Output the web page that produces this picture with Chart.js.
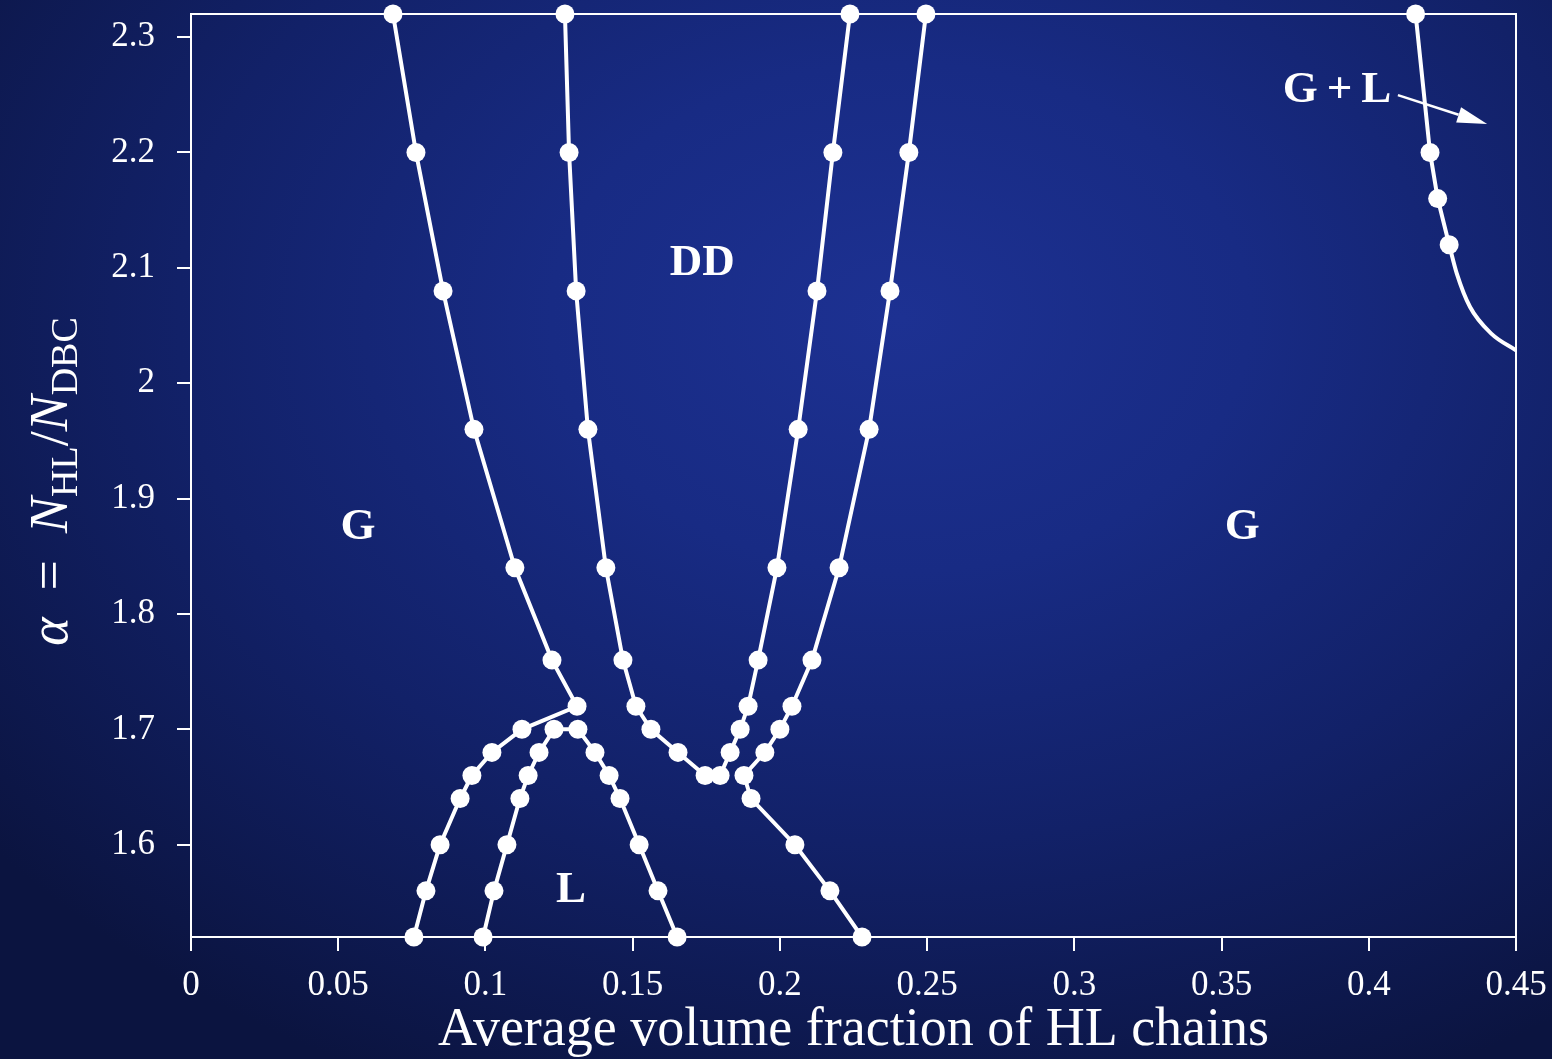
<!DOCTYPE html>
<html>
<head>
<meta charset="utf-8">
<script src="https://cdn.jsdelivr.net/npm/chart.js@4.4.1/dist/chart.umd.min.js"></script>
<style>
  html, body { margin: 0; padding: 0; }
  body {
    width: 1552px; height: 1059px; overflow: hidden;
    background: radial-gradient(ellipse 75% 80% at 58% 30%, #1d3192 0%, #182b84 30%, #122168 62%, #0b1440 100%);
  }
  #wrap { position: relative; width: 1552px; height: 1059px; }
</style>
</head>
<body>
<div id="wrap"><canvas id="c"></canvas></div>
<script>
// ---- Data ----
const xTicks = [0, 0.05, 0.1, 0.15, 0.2, 0.25, 0.3, 0.35, 0.4, 0.45];
const xTickLabels = ['0', '0.05', '0.1', '0.15', '0.2', '0.25', '0.3', '0.35', '0.4', '0.45'];
const yTicks = [1.6, 1.7, 1.8, 1.9, 2.0, 2.1, 2.2, 2.3];
const yTickLabels = ['1.6', '1.7', '1.8', '1.9', '2', '2.1', '2.2', '2.3'];

// Line A: outer-left G boundary, then down the left side of L
const lineAx = [0.0686, 0.0764, 0.0856, 0.0961, 0.1100, 0.1226, 0.1311, 0.1124, 0.1022, 0.0954, 0.0914, 0.0846, 0.0798, 0.0757];
const lineAy = [2.32, 2.20, 2.08, 1.96, 1.84, 1.76, 1.72, 1.70, 1.68, 1.66, 1.64, 1.60, 1.56, 1.52];

// Line B: inner DD U-shape
const lineBx = [0.1270, 0.1284, 0.1308, 0.1348, 0.1409, 0.1467, 0.1511, 0.1562, 0.1654, 0.1746, 0.1797, 0.1831, 0.1865, 0.1892, 0.1926, 0.1990, 0.2062, 0.2126, 0.2180, 0.2238];
const lineBy = [2.32, 2.20, 2.08, 1.96, 1.84, 1.76, 1.72, 1.70, 1.68, 1.66, 1.66, 1.68, 1.70, 1.72, 1.76, 1.84, 1.96, 2.08, 2.20, 2.32];

// Line C: inner L boundary (arch)
const lineCx = [0.0992, 0.1029, 0.1073, 0.1117, 0.1145, 0.1182, 0.1233, 0.1314, 0.1372, 0.1420, 0.1457, 0.1522, 0.1586, 0.1651];
const lineCy = [1.52, 1.56, 1.60, 1.64, 1.66, 1.68, 1.70, 1.70, 1.68, 1.66, 1.64, 1.60, 1.56, 1.52];

// Line D: outer-right DD boundary, then down to the bottom
const lineDx = [0.2496, 0.2438, 0.2374, 0.2303, 0.2201, 0.2109, 0.2041, 0.2000, 0.1949, 0.1878, 0.1902, 0.2051, 0.2170, 0.2279];
const lineDy = [2.32, 2.20, 2.08, 1.96, 1.84, 1.76, 1.72, 1.70, 1.68, 1.66, 1.64, 1.60, 1.56, 1.52];

// G+L boundary (markers) and its continuing curve (no markers)
const glPointsX = [0.4159, 0.4208, 0.4234, 0.4273];
const glPointsY = [2.32, 2.20, 2.16, 2.12];
const glCurveX = [0.4273, 0.4299, 0.4344, 0.4416, 0.4500];
const glCurveY = [2.12, 2.095, 2.066, 2.043, 2.0285];

// Region labels (data coordinates)
const regionText = ['G', 'DD', 'G', 'L', 'G\u2009+\u2009L'];
const regionX = [0.0567, 0.1736, 0.3570, 0.1291, 0.3892];
const regionY = [1.875, 2.104, 1.875, 1.5607, 2.254];

// Arrow from "G+L" label (data coordinates)
const arrowFrom = [0.4099, 2.2497];
const arrowTo = [0.4402, 2.2246];

const toPts = (xs, ys) => xs.map((x, i) => ({ x: x, y: ys[i] }));

const WHITE = '#ffffff';
const SERIF = '"Liberation Serif", "DejaVu Serif", serif';

function lineSet(data, markers, extra) {
  return Object.assign({
    data: data,
    showLine: true,
    borderColor: WHITE,
    backgroundColor: WHITE,
    borderWidth: 4,
    pointRadius: markers ? 9.5 : 0,
    pointHoverRadius: markers ? 9.5 : 0,
    pointBackgroundColor: WHITE,
    pointBorderWidth: 0,
    tension: 0,
    clip: false
  }, extra || {});
}

const framePlugin = {
  id: 'frame',
  beforeDatasetsDraw(chart) {
    const a = chart.chartArea, ctx = chart.ctx;
    ctx.save();
    ctx.strokeStyle = WHITE;
    ctx.lineWidth = 2;
    ctx.strokeRect(a.left, a.top, a.right - a.left, a.bottom - a.top);
    ctx.restore();
  }
};

const labelsPlugin = {
  id: 'regionLabels',
  afterDatasetsDraw(chart) {
    const ctx = chart.ctx, xs = chart.scales.x, ys = chart.scales.y;
    ctx.save();
    ctx.fillStyle = WHITE;
    ctx.textAlign = 'center';
    ctx.textBaseline = 'middle';
    ctx.font = 'bold 45px ' + SERIF;
    regionText.forEach((t, i) => {
      ctx.fillText(t, xs.getPixelForValue(regionX[i]), ys.getPixelForValue(regionY[i]));
    });
    // arrow
    const x1 = xs.getPixelForValue(arrowFrom[0]), y1 = ys.getPixelForValue(arrowFrom[1]);
    const x2 = xs.getPixelForValue(arrowTo[0]), y2 = ys.getPixelForValue(arrowTo[1]);
    const ang = Math.atan2(y2 - y1, x2 - x1);
    const hl = 30, hw = 8;
    const bx = x2 - hl * Math.cos(ang), by = y2 - hl * Math.sin(ang);
    ctx.strokeStyle = WHITE;
    ctx.lineWidth = 2.5;
    ctx.beginPath();
    ctx.moveTo(x1, y1);
    ctx.lineTo(bx, by);
    ctx.stroke();
    ctx.beginPath();
    ctx.moveTo(x2, y2);
    ctx.lineTo(bx + hw * Math.sin(ang), by - hw * Math.cos(ang));
    ctx.lineTo(bx - hw * Math.sin(ang), by + hw * Math.cos(ang));
    ctx.closePath();
    ctx.fill();

    // y-axis title: alpha = N_HL / N_DBC (rotated)
    const parts = [
      { t: 'α', f: 'italic 54px ' + SERIF, dy: 0 },
      { t: '\u2002=\u2002', f: '54px ' + SERIF, dy: 0 },
      { t: 'N', f: 'italic 54px ' + SERIF, dy: 0 },
      { t: 'HL', f: '38px ' + SERIF, dy: 10 },
      { t: '/', f: '54px ' + SERIF, dy: 0 },
      { t: 'N', f: 'italic 54px ' + SERIF, dy: 0 },
      { t: 'DBC', f: '38px ' + SERIF, dy: 10 }
    ];
    let total = 0;
    parts.forEach(p => { ctx.font = p.f; p.w = ctx.measureText(p.t).width; total += p.w; });
    const cx = 67, cy = (ys.getPixelForValue(2.32) + ys.getPixelForValue(1.52)) / 2 + 6;
    ctx.translate(cx, cy);
    ctx.rotate(-Math.PI / 2);
    ctx.textAlign = 'left';
    ctx.textBaseline = 'alphabetic';
    let px = -total / 2;
    parts.forEach(p => {
      ctx.font = p.f;
      ctx.fillText(p.t, px, p.dy);
      px += p.w;
    });
    ctx.restore();
  }
};

const labelFor = (vals, labs) => (v) => {
  for (let i = 0; i < vals.length; i++) if (Math.abs(vals[i] - v) < 1e-9) return labs[i];
  return '';
};

new Chart(document.getElementById('c'), {
  type: 'scatter',
  data: {
    datasets: [
      lineSet(toPts(lineAx, lineAy), true),
      lineSet(toPts(lineBx, lineBy), true),
      lineSet(toPts(lineCx, lineCy), true),
      lineSet(toPts(lineDx, lineDy), true),
      lineSet(toPts(glCurveX, glCurveY), false, { cubicInterpolationMode: 'monotone' }),
      lineSet(toPts(glPointsX, glPointsY), true)
    ]
  },
  options: {
    responsive: true,
    maintainAspectRatio: false,
    animation: false,
    layout: { padding: { top: 14, right: 36, left: 0, bottom: 0 } },
    plugins: { legend: { display: false }, tooltip: { enabled: false } },
    scales: {
      x: {
        type: 'linear',
        min: 0, max: 0.45,
        afterFit: (s) => { s.height = 122; s.paddingLeft = 0; s.paddingRight = 0; },
        afterBuildTicks: (s) => { s.ticks = xTicks.map(v => ({ value: v })); },
        border: { display: true, color: WHITE, width: 2 },
        grid: { display: true, drawOnChartArea: false, drawTicks: true, tickLength: 14, color: WHITE, tickColor: WHITE, lineWidth: 2 },
        ticks: {
          color: WHITE, font: { family: SERIF, size: 35 }, padding: 14, maxRotation: 0, autoSkip: false,
          callback: labelFor(xTicks, xTickLabels)
        },
        title: {
          display: true, text: 'Average volume fraction of HL chains', color: WHITE,
          font: { family: SERIF, size: 54 }, padding: { top: 0, bottom: -4 }
        }
      },
      y: {
        type: 'linear',
        min: 1.52, max: 2.32,
        afterFit: (s) => { s.width = 191; s.paddingTop = 0; s.paddingBottom = 0; },
        afterBuildTicks: (s) => { s.ticks = yTicks.map(v => ({ value: v })); },
        border: { display: true, color: WHITE, width: 2 },
        grid: { display: true, drawOnChartArea: false, drawTicks: true, tickLength: 14, color: WHITE, tickColor: WHITE, lineWidth: 2 },
        ticks: {
          color: WHITE, font: { family: SERIF, size: 35 }, padding: 22, autoSkip: false,
          callback: labelFor(yTicks, yTickLabels)
        }
      }
    }
  },
  plugins: [framePlugin, labelsPlugin]
});
</script>
</body>
</html>
